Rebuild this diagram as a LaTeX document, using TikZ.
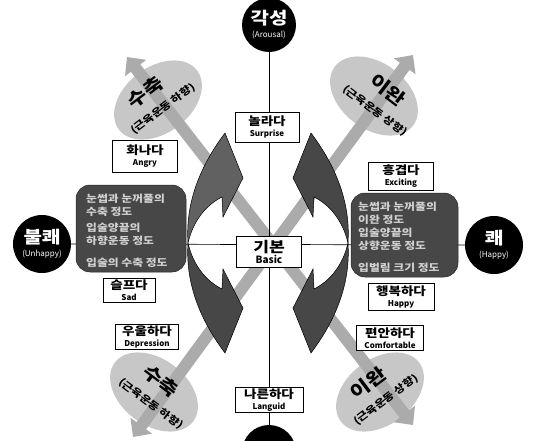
\documentclass[tikz,border=0pt]{standalone}
\usepackage{fontspec}
\setmainfont{Noto Sans CJK KR}
\newfontfamily\widefont{Noto Sans CJK KR}[FakeStretch=1.18]
\usetikzlibrary{arrows.meta,shapes.geometric}
\newcommand\fsz[1]{\fontsize{#1}{#1}\selectfont}
\newcommand\emolab[2]{{\widefont\fsz{11.5}\bfseries #1}\\[-1pt]{\fsz{8}\bfseries #2}}
\tikzset{
 emo/.style={draw=black, line width=0.7pt, fill=white, align=center, inner sep=1pt, minimum height=26pt, minimum width=64pt},
 circ/.style={circle, fill=black, minimum size=54pt, inner sep=0pt, text=white, align=center},
 stripe/.style={draw=black!33, line width=12pt, {Triangle[length=14pt,width=26pt,fill=black!33]}-{Triangle[length=14pt,width=26pt,fill=black!33]}},
 blob/.style={ellipse, fill=black!22, minimum width=98pt, minimum height=66pt},
 darkbox/.style={draw=black!85, fill=black!72, rounded corners=14pt, line width=0.5pt},
 boxtxt/.style={text=white!82!black, anchor=west, font=\widefont\fontsize{10}{13}\selectfont\bfseries, inner sep=0pt, align=left},
 curarrow/.style={fill=black!72, draw=black, line width=0.5pt},
 axisline/.style={draw=black, line width=0.7pt},
 biglab/.style={font=\widefont\fsz{18}\bfseries, inner sep=0pt},
 sublab/.style={font=\widefont\fsz{10}\bfseries, inner sep=0pt}
}
\begin{document}
\begin{tikzpicture}[x=1pt,y=-1pt]
\useasboundingbox (0,0) rectangle (536,440);
\clip (0,0) rectangle (536,440);
% blobs
\node[blob, rotate=37] (bUL) at (158,100) {};
\node[blob, rotate=-37] (bUR) at (374,96) {};
\node[blob, rotate=-37] (bLL) at (154,392) {};
\node[blob, rotate=37] (bLR) at (380,392) {};
% diagonal stripes
\coordinate (pUL) at (127,57);
\coordinate (pLR) at (413,425);
\coordinate (pUR) at (413,55);
\coordinate (pLL) at (133,437);
\draw[stripe] (pUL) -- (pLR);
\draw[stripe] (pUR) -- (pLL);
% circles
\node[circ] (arousal) at (269,25) {{\widefont\fsz{17}\bfseries 각성}\\[1pt]{\fsz{8}(Arousal)}};
\node[circ] (bottom) at (269,452) {};
\node[circ, minimum size=58pt] (unhappy) at (42,244) {{\widefont\fsz{17}\bfseries 불쾌}\\[1pt]{\fsz{8}(Unhappy)}};
\node[circ, minimum size=58pt] (happy) at (494,245) {{\widefont\fsz{17}\bfseries 쾌}\\[1pt]{\fsz{8}(Happy)}};
% axes
\draw[axisline] (arousal) -- (bottom);
\draw[axisline] (unhappy) -- (happy);
% curved arrows
\foreach \sx/\sy/\col in {1/1/62, -1/1/72, 1/-1/72, -1/-1/72}{
 \begin{scope}[shift={(268,243)}, xscale=\sx, yscale=\sy]
  \path[curarrow, fill=black!\col] (-80,0) .. controls (-83,-45) and (-64,-82) .. (-43,-110) -- (-25,-65) -- (-45,-26) -- (-46,-46) .. controls (-62,-38) and (-75,-22) .. (-80,0) -- cycle;
 \end{scope}
}
% dark boxes
\node[darkbox, minimum width=110pt, minimum height=87pt] (lbox) at (131,228.5) {};
\node[darkbox, minimum width=107pt, minimum height=84pt] (rbox) at (404.5,235) {};
\node[boxtxt] (lt1) at (86,205.5) {눈썹과 눈꺼풀의\\수축 정도};
\node[boxtxt] (lt2) at (86,234.5) {입술양끝의\\하향운동 정도};
\node[boxtxt] (lt3) at (86,263) {입술의 수축 정도};
\node[boxtxt] (rt1) at (358,213.5) {눈썹과 눈꺼풀의\\이완 정도};
\node[boxtxt] (rt2) at (358,239.5) {입술양끝의\\상향운동 정도};
\node[boxtxt] (rt3) at (358,268) {입벌림 크기 정도};
% emotion boxes
\node[emo, minimum height=30pt] (surprise) at (267,127) {\emolab{놀라다}{Surprise}};
\node[emo, minimum width=65pt, minimum height=31pt] (basic) at (269,252) {{\widefont\fsz{14.5}\bfseries 기본}\\[-1pt]{\fsz{10}\bfseries Basic}};
\node[emo, minimum width=65pt, minimum height=32pt] (angry) at (145,156) {\emolab{화나다}{Angry}};
\node[emo, minimum width=65pt, minimum height=28pt] (exciting) at (401,176) {\emolab{흥겹다}{Exciting}};
\node[emo, minimum width=52pt, minimum height=24pt] (sad) at (129,290) {\emolab{슬프다}{Sad}};
\node[emo, minimum width=66pt, minimum height=27pt] (happyl) at (401,297) {\emolab{행복하다}{Happy}};
\node[emo, minimum width=63pt, minimum height=23pt] (depression) at (147,337) {\emolab{우울하다}{Depression}};
\node[emo, minimum width=67pt, minimum height=25pt] (comfortable) at (390,338) {\emolab{편안하다}{Comfortable}};
\node[emo, minimum width=68pt, minimum height=25pt] (languid) at (269,400) {\emolab{나른하다}{Languid}};
% diagonal labels
\node[biglab, rotate=37] (lUL) at (145,92) {수축};
\node[sublab, rotate=37] (sUL) at (163,109) {(근육운동 하향)};
\node[biglab, rotate=-37] (lUR) at (388,90) {이완};
\node[sublab, rotate=-37] (sUR) at (375,111) {(근육운동 상향)};
\node[biglab, rotate=-37] (lLL) at (161,381) {수축};
\node[sublab, rotate=-37] (sLL) at (151,404) {(근육운동 하향)};
\node[biglab, rotate=37] (lLR) at (368,383) {이완};
\node[sublab, rotate=37] (sLR) at (386,400) {(근육운동 상향)};
\end{tikzpicture}
\end{document}
